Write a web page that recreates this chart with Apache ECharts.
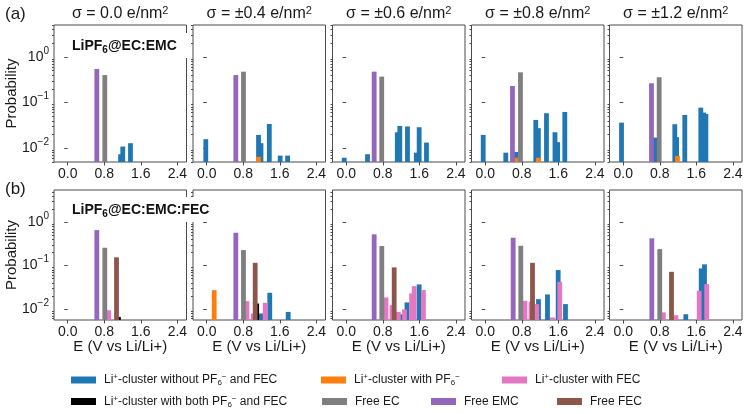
<!DOCTYPE html>
<html><head><meta charset="utf-8">
<script src="https://cdn.jsdelivr.net/npm/echarts@6/dist/echarts.min.js"></script>
<style>html,body{margin:0;padding:0;background:#fff}#c{width:748px;height:414px}</style>
</head><body><div id="c"></div>
<script>
// ---------- data ----------
const sigmaLabels = ['σ = 0.0 e/nm²', 'σ = ±0.4 e/nm²', 'σ = ±0.6 e/nm²', 'σ = ±0.8 e/nm²', 'σ = ±1.2 e/nm²'];
const systemLabels = ['LiPF₆@EC:EMC', 'LiPF₆@EC:EMC:FEC'];
const rowLabels = ['(a)', '(b)'];
const xAxisName = 'E (V vs Li/Li+)';
const yAxisName = 'Probability';
const xTicks = [0, 0.8, 1.6, 2.4];
const yTicks = [0.01, 0.1, 1];
const yMinorTicks = [0.005, 0.006, 0.007, 0.008, 0.009, 0.02, 0.03, 0.04, 0.05, 0.06, 0.07, 0.08, 0.09,
  0.2, 0.3, 0.4, 0.5, 0.6, 0.7, 0.8, 0.9, 2, 3, 4, 5];
const yRanges = [[0.005, 5], [0.0056, 5.5]];
const xRange = [-0.3, 2.6];

const seriesNames = ['Li⁺-cluster without PF₆⁻ and FEC', 'Li⁺-cluster with PF₆⁻', 'Li⁺-cluster with FEC',
  'Li⁺-cluster with both PF₆⁻ and FEC', 'Free EC', 'Free EMC', 'Free FEC'];

// each: 10 panels (0-4 = EC:EMC, 5-9 = EC:EMC:FEC), items [E, probability]
const clusterPlain = [
  [[1.157, 0.0074], [1.205, 0.0109], [1.374, 0.0129]],
  [[-0.02, 0.0158], [1.188, 0.0129], [1.134, 0.0196], [1.37, 0.034], [1.608, 0.0069], [1.77, 0.0069]],
  [[-0.044, 0.0062], [0.466, 0.0074], [1.118, 0.0224], [1.173, 0.0308], [1.341, 0.030], [1.534, 0.008], [1.597, 0.0289], [1.757, 0.0133]],
  [[-0.044, 0.0196], [0.45, 0.008], [0.674, 0.0083], [1.164, 0.0275], [1.107, 0.0417], [1.341, 0.0585], [1.586, 0.0136], [1.527, 0.0224], [1.742, 0.0624]],
  [[-0.037, 0.0364], [0.696, 0.0171], [1.17, 0.0175], [1.129, 0.0336], [1.348, 0.0537], [1.81, 0.0565], [1.76, 0.0603], [1.698, 0.0776]],
  [],
  [[1.19, 0.0079], [1.38, 0.0237], [1.783, 0.0086]],
  [[1.22, 0.0076], [1.33, 0.0142], [1.597, 0.0369]],
  [[1.166, 0.0169], [1.363, 0.0217], [1.597, 0.0789], [1.757, 0.013]],
  [[1.37, 0.0076], [1.707, 0.0863], [1.779, 0.107]]
];
const clusterPF6 = [
  [],
  [[1.133, 0.0065]],
  [],
  [[0.663, 0.0062], [1.163, 0.0062]],
  [[1.188, 0.0068]],
  [],
  [[0.164, 0.0273]],
  [], [], []
];
const clusterFEC = [
  [], [], [], [], [],
  [[0.897, 0.0094]],
  [[0.88, 0.0152], [1.019, 0.0079], [1.28, 0.0139]],
  [[0.871, 0.0185], [1.002, 0.0123], [1.142, 0.0086], [1.275, 0.0098], [1.431, 0.0229], [1.488, 0.0337], [1.69, 0.0273]],
  [[0.871, 0.0155], [1.002, 0.0148], [1.127, 0.013], [1.472, 0.0064], [1.632, 0.0424]],
  [[0.879, 0.0084], [1.155, 0.0072], [1.663, 0.0263], [1.827, 0.0375]]
];
const clusterBoth = [
  [], [], [], [], [],
  [[1.11, 0.0066]],
  [[1.094, 0.0134]],
  [], [], []
];
const freeEC = [
  [[0.812, 0.40]], [[0.805, 0.475]], [[0.777, 0.37]], [[0.772, 0.46]], [[0.787, 0.359]],
  [[0.812, 0.258]], [[0.805, 0.228]], [[0.779, 0.282]], [[0.779, 0.286]], [[0.80, 0.24]]
];
const freeEMC = [
  [[0.637, 0.545]], [[0.637, 0.40]], [[0.612, 0.475]], [[0.597, 0.231]], [[0.619, 0.265]],
  [[0.637, 0.657]], [[0.637, 0.57]], [[0.612, 0.524]], [[0.612, 0.438]], [[0.626, 0.424]]
];
const freeFEC = [
  [], [], [], [], [],
  [[1.068, 0.155]], [[1.061, 0.116]], [[1.05, 0.091]], [[1.035, 0.116]], [[1.057, 0.072]]
];
const seriesData = [clusterPlain, clusterPF6, clusterFEC, clusterBoth, freeEC, freeEMC, freeFEC];
const seriesColors = ['#1f77b4', '#ff7f0e', '#e377c2', '#000000', '#7f7f7f', '#9467bd', '#8c564b'];

// ---------- layout ----------
const FONT = '"Liberation Sans", Arial, Helvetica, sans-serif';
const TXT = '#1a1a1a';
const AX = '#4a4a4a';
const panelLeft = [54, 193, 332.5, 471.5, 609.5];
const PANEL_W = 132.5;
const rowTop = [25, 190];
const rowH = [137, 130];
const BAR_W = 0.105;
const legendPos = [[71, 373], [321, 373], [502, 373], [71, 394.5], [322, 394.5], [431, 394.5], [557, 394.5]];

function toRich(s) {
  return s.replace(/⁺/g, '{sup|+}').replace(/₆/g, '{sub|6}').replace(/⁻/g, '{sup|−}').replace(/²/g, '{sup|2}');
}

const grids = [], xAxes = [], yAxes = [], series = [], graphics = [];
for (let r = 0; r < 2; r++) {
  for (let c = 0; c < 5; c++) {
    const g = r * 5 + c;
    grids.push({left: panelLeft[c], top: rowTop[r], width: PANEL_W, height: rowH[r],
      show: true, borderColor: AX, borderWidth: 1, backgroundColor: 'transparent'});
    xAxes.push({type: 'value', gridIndex: g, min: xRange[0], max: xRange[1],
      axisLine: {show: false}, splitLine: {show: false},
      axisTick: {show: true, customValues: xTicks, length: 3.5, lineStyle: {color: AX}},
      axisLabel: {customValues: xTicks, formatter: v => v.toFixed(1), fontSize: 14,
        fontFamily: FONT, color: TXT, margin: 5}});
    yAxes.push({type: 'log', logBase: 10, gridIndex: g, min: yRanges[r][0], max: yRanges[r][1], position: 'left',
      axisLine: {show: false}, splitLine: {show: false},
      axisTick: {show: true, customValues: yTicks, length: 3.5, lineStyle: {color: AX}},
      axisLabel: {show: c === 0, customValues: yTicks, margin: 5,
        formatter: v => { const e = Math.round(Math.log10(v)); return '{b|10}{s|' + (e < 0 ? '−' + (-e) : e) + '}'; },
        rich: {b: {fontSize: 14, fontFamily: FONT, color: TXT, lineHeight: 16, verticalAlign: 'middle'},
               s: {fontSize: 10, fontFamily: FONT, color: TXT, lineHeight: 10, verticalAlign: 'middle', padding: [0, 0, 12, 0]}}}});
    yAxes.push({type: 'log', logBase: 10, gridIndex: g, min: yRanges[r][0], max: yRanges[r][1], position: 'left',
      axisLine: {show: false}, splitLine: {show: false}, axisLabel: {show: false},
      axisTick: {show: true, customValues: yMinorTicks, length: 2, lineStyle: {color: AX}}});
    for (let s = 0; s < seriesNames.length; s++) {
      series.push({
        type: 'custom', name: seriesNames[s], xAxisIndex: g, yAxisIndex: 2 * g,
        data: seriesData[s][g], itemStyle: {color: seriesColors[s]}, clip: true, silent: true,
        renderItem: (params, api) => {
          const x = api.value(0), v = api.value(1);
          const p0 = api.coord([x - BAR_W / 2, v]);
          const p1 = api.coord([x + BAR_W / 2, v]);
          const bottom = params.coordSys.y + params.coordSys.height;
          return {type: 'rect', shape: {x: p0[0], y: p0[1], width: p1[0] - p0[0], height: bottom - p0[1]},
            style: {fill: api.visual('color')}};
        }
      });
    }
    if (r === 0) {
      graphics.push({type: 'text', x: panelLeft[c] + PANEL_W / 2, y: 14, z: 50,
        style: {text: toRich(sigmaLabels[c]), fontSize: 16, fontFamily: FONT, fill: TXT,
          align: 'center', verticalAlign: 'middle', lineHeight: 18,
          rich: {sup: {fontSize: 11, lineHeight: 11, verticalAlign: 'top'}}}});
    } else {
      graphics.push({type: 'text', x: panelLeft[c] + PANEL_W / 2, y: 347, z: 50,
        style: {text: xAxisName, fontSize: 15, fontFamily: FONT, fill: TXT, align: 'center', verticalAlign: 'middle'}});
    }
  }
  graphics.push({type: 'text', x: 12, y: rowTop[r] + rowH[r] / 2, rotation: Math.PI / 2, z: 50,
    style: {text: yAxisName, fontSize: 15, fontFamily: FONT, fill: TXT, align: 'center', verticalAlign: 'middle'}});
  graphics.push({type: 'text', x: 5, y: r === 0 ? 14 : 189, z: 50,
    style: {text: rowLabels[r], fontSize: 17, fontFamily: FONT, fill: TXT, align: 'left', verticalAlign: 'middle'}});
  graphics.push({type: 'text', left: 68, top: r === 0 ? 33 : 197, z: 60,
    style: {text: toRich(systemLabels[r]), fontSize: 14, fontWeight: 'bold', fontFamily: FONT, fill: '#111',
      lineHeight: 18, backgroundColor: '#fff', padding: [4, 13, 3, 4],
      rich: {sub: {fontSize: 10, fontWeight: 'bold', lineHeight: 10, verticalAlign: 'bottom'}}}});
}

const legends = seriesNames.map((n, i) => ({
  data: [n], left: legendPos[i][0], top: legendPos[i][1], padding: 0, icon: 'rect',
  itemWidth: 25, itemHeight: 7, selectedMode: false,
  formatter: name => toRich(name),
  textStyle: {fontSize: 12, fontFamily: FONT, color: TXT, lineHeight: 14, padding: [0, 0, 0, 3],
    rich: {sup: {fontSize: 8, lineHeight: 8, verticalAlign: 'top'},
           sub: {fontSize: 8, lineHeight: 8, verticalAlign: 'bottom'}}}
}));

const chart = echarts.init(document.getElementById('c'), null, {renderer: 'canvas'});
chart.setOption({
  animation: false,
  backgroundColor: '#fff',
  grid: grids, xAxis: xAxes, yAxis: yAxes, series: series,
  legend: legends, graphic: graphics
});
</script></body></html>
